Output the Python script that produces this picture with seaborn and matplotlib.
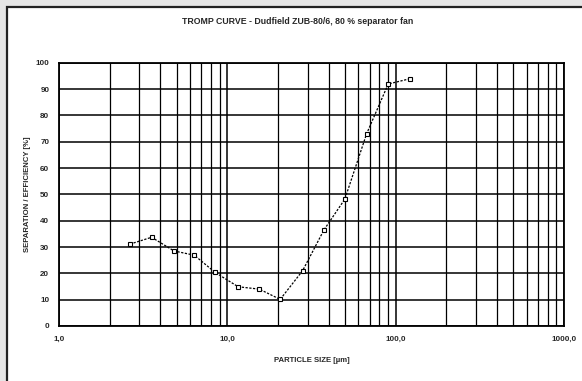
import matplotlib
matplotlib.use("Agg")
import matplotlib.pyplot as plt
import matplotlib.ticker as mticker
import seaborn as sns
import pandas as pd
from matplotlib.patches import Rectangle

# Tromp curve data
particle_size = [2.64, 3.55, 4.82, 6.36, 8.44, 11.6, 15.5, 20.6, 28.0, 37.5, 49.9, 67.2, 90.3, 121.4]
efficiency = [31.1, 33.7, 28.5, 26.9, 20.4, 14.9, 14.0, 10.1, 21.0, 36.5, 48.2, 73.0, 91.9, 93.9]

x_ticks = [1, 10, 100, 1000]
x_tick_labels = ["1,0", "10,0", "100,0", "1000,0"]
y_ticks = list(range(0, 101, 10))

title = "TROMP CURVE - Dudfield ZUB-80/6, 80 % separator fan"

sns.set_style("white")
plt.rcParams['font.family'] = ['Liberation Sans', 'DejaVu Sans']

df = pd.DataFrame({"size": particle_size, "eff": efficiency})

fig = plt.figure(figsize=(5.82, 3.81), dpi=100)
fig.patch.set_facecolor("#e6e6e6")

# white chart-area panel with dark frame (left/top visible)
W, H = 582, 381
panel = Rectangle((7 / W, -0.05), 1.1, 1 - 7 / H + 0.05,
                  transform=fig.transFigure, facecolor="white",
                  edgecolor="#222222", linewidth=1.6, zorder=-10)
fig.add_artist(panel)

ax = fig.add_axes([59 / W, 1 - 326 / H, (564 - 59) / W, (326 - 62.7) / H])
ax.set_zorder(5)
ax.set_facecolor("white")

sns.lineplot(data=df, x="size", y="eff", ax=ax, color="black",
             linestyle=(0, (1.8, 1.2)), linewidth=0.9, marker="s",
             markersize=3.3, markerfacecolor="white", markeredgecolor="black",
             markeredgewidth=0.8, zorder=5)

ax.set_xscale("log")
ax.set_xlim(1, 1000)
ax.set_ylim(0, 100)
ax.set_xticks(x_ticks)
ax.set_xticklabels(x_tick_labels)
ax.xaxis.set_minor_locator(mticker.LogLocator(base=10, subs=range(2, 10)))
ax.xaxis.set_minor_formatter(mticker.NullFormatter())
ax.set_yticks(y_ticks)

ax.grid(True, which="major", color="black", linewidth=1.1)
ax.grid(True, which="minor", axis="x", color="black", linewidth=0.9)

for s in ax.spines.values():
    s.set_color("black")
    s.set_linewidth(1.3)

ax.tick_params(axis="both", which="major", length=3, width=0.8, color="black",
               labelsize=5.8, pad=4)
ax.tick_params(axis="x", which="minor", length=0)
for lbl in ax.get_xticklabels() + ax.get_yticklabels():
    lbl.set_fontweight("bold")

ax.set_xlabel("PARTICLE SIZE [µm]", fontsize=5.6, fontweight="bold", labelpad=10)
ax.set_ylabel("SEPARATION / EFFICIENCY [%]", fontsize=5.6, fontweight="bold",
              labelpad=3)

fig.text(298 / W, 1 - 21 / H, title, ha="center", va="center", fontsize=6.3,
         fontweight="bold")

fig.savefig("out.png", dpi=100, facecolor=fig.get_facecolor())
